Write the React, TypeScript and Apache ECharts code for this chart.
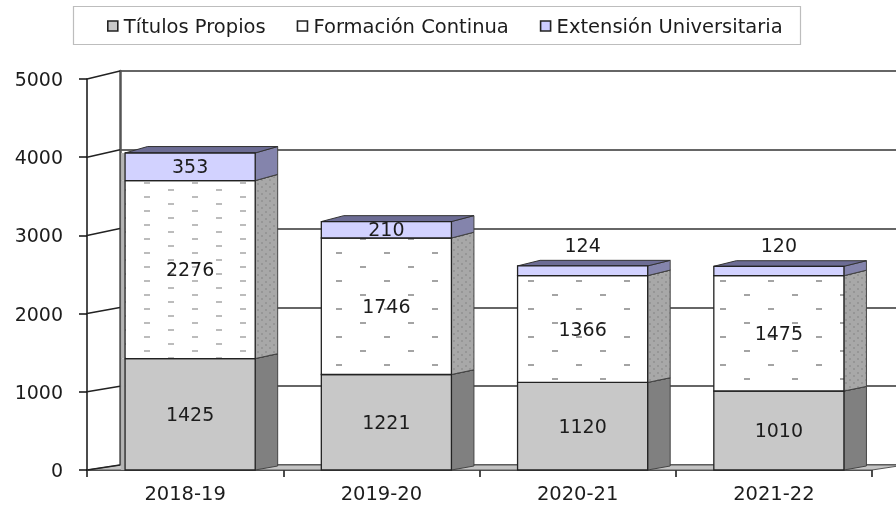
import React, { useEffect, useRef } from "react";
import * as echarts from "echarts";

const categories = ["2018-19", "2019-20", "2020-21", "2021-22"];
const titulos = [1425, 1221, 1120, 1010];
const formacion = [2276, 1746, 1366, 1475];
const extension = [353, 210, 124, 120];
const yTicks = [0, 1000, 2000, 3000, 4000, 5000];
const names = ["Títulos Propios", "Formación Continua", "Extensión Universitaria"];

const FONT = "DejaVu Sans";
const INK = "#1c1c1c";

function tile(w: number, h: number, paint: (c: CanvasRenderingContext2D) => void) {
  const cv = document.createElement("canvas");
  cv.width = w;
  cv.height = h;
  paint(cv.getContext("2d")!);
  return cv;
}

function dashTile(h: number, color: string) {
  return tile(48, h, (c) => {
    c.fillStyle = "#ffffff";
    c.fillRect(0, 0, 48, h);
    c.fillStyle = color;
    c.fillRect(0, 0, 6, 2);
    c.fillRect(24, h / 2, 6, 2);
  });
}

function sideTile() {
  return tile(8, 7, (c) => {
    c.fillStyle = "#a8a8a8";
    c.fillRect(0, 0, 8, 7);
    c.fillStyle = "#969696";
    c.fillRect(1, 1, 2, 2);
    c.fillRect(5, 4, 2, 2);
  });
}

const dx = 22.5;
const backDy = (v: number, base: number) => base + v * 0.0006;

type Look = { front: any; side: any; top: string };

function makeSeries(name: string, values: number[], bases: number[], look: (i: number, x: number, y: number) => Look, z: number) {
  return {
    type: "custom",
    name,
    xAxisIndex: 0,
    yAxisIndex: 0,
    z,
    clip: false,
    silent: true,
    data: values.map((v, i) => [i, bases[i], bases[i] + v, v]),
    renderItem: (_p: any, api: any) => {
      const i = api.value(0);
      const lo = api.value(1);
      const hi = api.value(2);
      const band = api.size([1, 0])[0];
      const w = band * 0.663;
      const cx = api.coord([i, lo])[0] + 5;
      const y0 = api.coord([i, lo])[1];
      const y1 = api.coord([i, hi])[1];
      const x1 = cx - w / 2;
      const x2 = cx + w / 2;
      const d0 = backDy(lo, 4);
      const d1 = backDy(hi, 4);
      const lk = look(i, x1, y1);
      const stroke = { stroke: "#222", lineWidth: 1.3 };
      const kids: any[] = [];
      if (i === 0) {
        kids.push({ type: "rect", shape: { x: x1 - 4, y: y1, width: 4, height: y0 - y1 }, style: { fill: "#b4b4b4" } });
      }
      kids.push({
        type: "polygon",
        shape: { points: [[x2, y0], [x2 + dx, y0 - d0], [x2 + dx, y1 - d1], [x2, y1]] },
        style: { fill: lk.side, stroke: "#444", lineWidth: 1 },
      });
      kids.push({
        type: "polygon",
        shape: { points: [[x1, y1], [x1 + dx, y1 - d1], [x2 + dx, y1 - d1], [x2, y1]] },
        style: { fill: lk.top, stroke: "#333", lineWidth: 1 },
      });
      kids.push({
        type: "rect",
        shape: { x: x1, y: y1, width: x2 - x1, height: y0 - y1 },
        style: { fill: lk.front, ...stroke },
      });
      const small = y0 - y1 < 12;
      kids.push({
        type: "text",
        z2: 10,
        style: {
          text: String(api.value(3)),
          x: cx,
          y: small ? y1 - 21 : (y0 + y1) / 2 - 0.5,
          align: "center",
          verticalAlign: "middle",
          fontFamily: FONT,
          fontSize: 19,
          fill: INK,
        },
      });
      return { type: "group", children: kids };
    },
  };
}

export default function App() {
  const ref = useRef<HTMLDivElement>(null);
  useEffect(() => {
    document.body.style.margin = "0";
    document.body.style.overflow = "hidden";
    const chart = echarts.init(ref.current!, undefined, { renderer: "svg" });
    const baseF = titulos;
    const baseE = titulos.map((v, i) => v + formacion[i]);
    const zeros = titulos.map(() => 0);
    const side = sideTile();
    const dense = dashTile(14, "#bcbcbc");
    const sparse = dashTile(28, "#a4a4a4");

    const option: any = {
      animation: false,
      backgroundColor: "#fff",
      textStyle: { fontFamily: FONT },
      graphic: [
        {
          type: "rect",
          z: 0,
          shape: { x: 73.5, y: 6.5, width: 727, height: 38 },
          style: { fill: "#fff", stroke: "#bdbdbd", lineWidth: 1.2 },
        },
      ],
      legend: {
        left: 107,
        top: 16,
        padding: 0,
        itemWidth: 10,
        itemHeight: 10,
        itemGap: 31,
        icon: "rect",
        selectedMode: false,
        textStyle: { fontFamily: FONT, fontSize: 19.5, color: INK, padding: [0, 0, 0, 1] },
        data: [
          { name: names[0], itemStyle: { color: "#c8c8c8", borderColor: "#222", borderWidth: 1.6 } },
          { name: names[1], itemStyle: { color: "#ffffff", borderColor: "#222", borderWidth: 1.6 } },
          { name: names[2], itemStyle: { color: "#ccccff", borderColor: "#222", borderWidth: 1.6 } },
        ],
      },
      grid: [
        { left: 87, width: 785, top: 79, height: 391 },
        { left: 120, width: 785, top: 71, height: 394 },
      ],
      xAxis: [
        {
          type: "category",
          gridIndex: 0,
          data: categories,
          axisLine: { lineStyle: { color: "#111", width: 1.5 } },
          axisTick: { show: true, length: 7, alignWithLabel: false, lineStyle: { color: "#111", width: 1.5 } },
          axisLabel: { fontFamily: FONT, fontSize: 19.5, color: INK, margin: 13 },
        },
        { type: "category", gridIndex: 1, data: categories, show: false },
      ],
      yAxis: [
        {
          type: "value",
          gridIndex: 0,
          min: 0,
          max: 5000,
          interval: 1000,
          splitLine: { show: false },
          axisLine: { show: true, lineStyle: { color: "#111", width: 1.5 } },
          axisTick: { show: true, length: 8, lineStyle: { color: "#111", width: 1.5 } },
          axisLabel: { fontFamily: FONT, fontSize: 19, color: INK, margin: 24, formatter: (v: number) => String(v) },
        },
        {
          type: "value",
          gridIndex: 1,
          min: 0,
          max: 5000,
          interval: 1000,
          axisLine: { show: true, lineStyle: { color: "#555", width: 2.5 } },
          axisTick: { show: false },
          axisLabel: { show: false },
          splitLine: { show: true, lineStyle: { color: "#333", width: 1.6 } },
        },
      ],
      series: [
        {
          type: "custom",
          name: "floor",
          xAxisIndex: 0,
          yAxisIndex: 0,
          z: 1,
          clip: false,
          silent: true,
          data: [[0, 0]],
          renderItem: (p: any, api: any) => {
            const g = p.coordSys;
            const y0 = api.coord([0, 0])[1];
            return {
              type: "polygon",
              shape: {
                points: [
                  [g.x, y0],
                  [g.x + 33, y0 - 5],
                  [g.x + g.width + 33, y0 - 5],
                  [g.x + g.width, y0],
                ],
              },
              style: { fill: "#c4c4c4", stroke: "#555", lineWidth: 1 },
            };
          },
        },
        {
          type: "custom",
          name: "depth",
          xAxisIndex: 0,
          yAxisIndex: 0,
          z: 1,
          clip: false,
          silent: true,
          data: yTicks.map((v) => [0, v]),
          renderItem: (p: any, api: any) => {
            const v = api.value(1);
            const x = p.coordSys.x;
            const y = api.coord([0, v])[1];
            return {
              type: "line",
              shape: { x1: x, y1: y, x2: x + 33, y2: y - backDy(v, 5) },
              style: { stroke: "#222", lineWidth: 1.5 },
            };
          },
        },
        makeSeries(names[0], titulos, zeros, () => ({ front: "#c8c8c8", side: "#808080", top: "#9a9a9a" }), 2),
        makeSeries(
          names[1],
          formacion,
          baseF,
          (i, x, y) => {
            const d = i === 0;
            return {
              front: {
                image: d ? dense : sparse,
                repeat: "repeat",
                imageWidth: 48,
                imageHeight: d ? 14 : 28,
                x: x + 5.5,
                y: y + (d ? 3 : 8),
              },
              side: { image: side, repeat: "repeat", imageWidth: 8, imageHeight: 7 },
              top: "#9a9a9a",
            };
          },
          3
        ),
        makeSeries(names[2], extension, baseE, () => ({ front: "#d2d2ff", side: "#8484ac", top: "#6c6c94" }), 4),
      ],
    };
    chart.setOption(option);
    return () => chart.dispose();
  }, []);
  return (
    <div
      ref={ref}
      style={{ position: "fixed", left: 0, top: 0, width: 896, height: 506, filter: "blur(0.45px)" }}
    />
  );
}
